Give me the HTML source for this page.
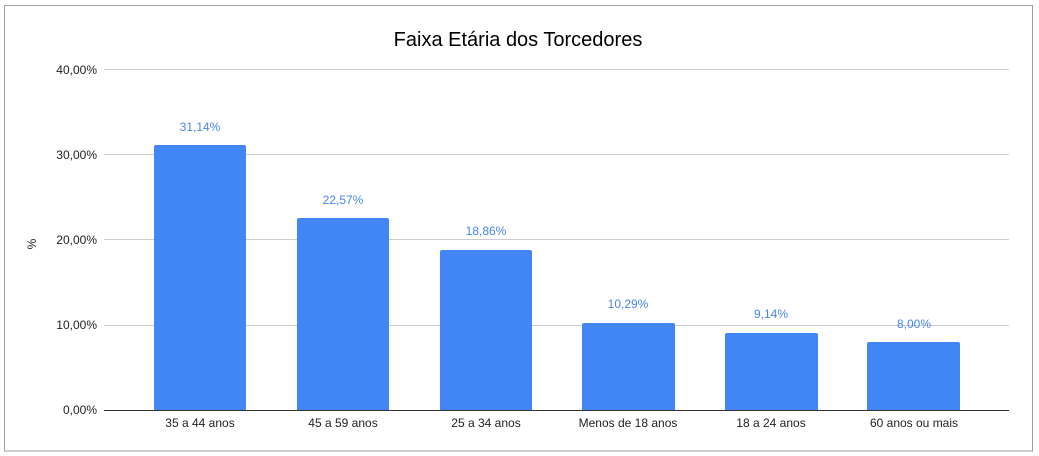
<!DOCTYPE html>
<html><head><meta charset="utf-8"><style>
html,body{margin:0;padding:0;background:#fff;}
svg{display:block;font-family:"Liberation Sans",Arial,sans-serif;}
</style></head><body>
<svg width="1039" height="456" viewBox="0 0 1039 456">
<rect x="4.5" y="5.5" width="1028" height="445.5" fill="#fff" stroke="#9e9e9e" stroke-width="1"/>
<text x="518" y="46" font-size="20" text-anchor="middle" fill="#000">Faixa Etária dos Torcedores</text>
<g stroke="#cccccc" stroke-width="1">
<line x1="104" x2="1009" y1="69.5" y2="69.5"/>
<line x1="104" x2="1009" y1="154.5" y2="154.5"/>
<line x1="104" x2="1009" y1="239.5" y2="239.5"/>
<line x1="104" x2="1009" y1="325.5" y2="325.5"/>
</g>
<g font-size="12" fill="#222" text-anchor="end">
<text x="97" y="74">40,00%</text>
<text x="97" y="159">30,00%</text>
<text x="97" y="244">20,00%</text>
<text x="97" y="329">10,00%</text>
<text x="97" y="414">0,00%</text>
</g>
<text x="36" y="244" font-size="12" fill="#222" text-anchor="middle" transform="rotate(-90 36 244)">%</text>
<g fill="#4285f4">
<path d="M154 410V147a2 2 0 0 1 2-2H244a2 2 0 0 1 2 2V410Z"/>
<path d="M297 410V220a2 2 0 0 1 2-2H387a2 2 0 0 1 2 2V410Z"/>
<path d="M440 410V252a2 2 0 0 1 2-2H530a2 2 0 0 1 2 2V410Z"/>
<path d="M582 410V325a2 2 0 0 1 2-2H673a2 2 0 0 1 2 2V410Z"/>
<path d="M725 410V335a2 2 0 0 1 2-2H816a2 2 0 0 1 2 2V410Z"/>
<path d="M867 410V344a2 2 0 0 1 2-2H958a2 2 0 0 1 2 2V410Z"/>
</g>
<line x1="104" x2="1009" y1="410.5" y2="410.5" stroke="#333" stroke-width="1"/>
<g font-size="12" fill="#4a86e8" text-anchor="middle">
<text x="200" y="131">31,14%</text>
<text x="343" y="204">22,57%</text>
<text x="486" y="235">18,86%</text>
<text x="628" y="308">10,29%</text>
<text x="771" y="318">9,14%</text>
<text x="914" y="328">8,00%</text>
</g>
<g font-size="12" fill="#222" text-anchor="middle">
<text x="200" y="427">35 a 44 anos</text>
<text x="343" y="427">45 a 59 anos</text>
<text x="486" y="427">25 a 34 anos</text>
<text x="628" y="427">Menos de 18 anos</text>
<text x="771" y="427">18 a 24 anos</text>
<text x="914" y="427">60 anos ou mais</text>
</g>
</svg>
</body></html>
